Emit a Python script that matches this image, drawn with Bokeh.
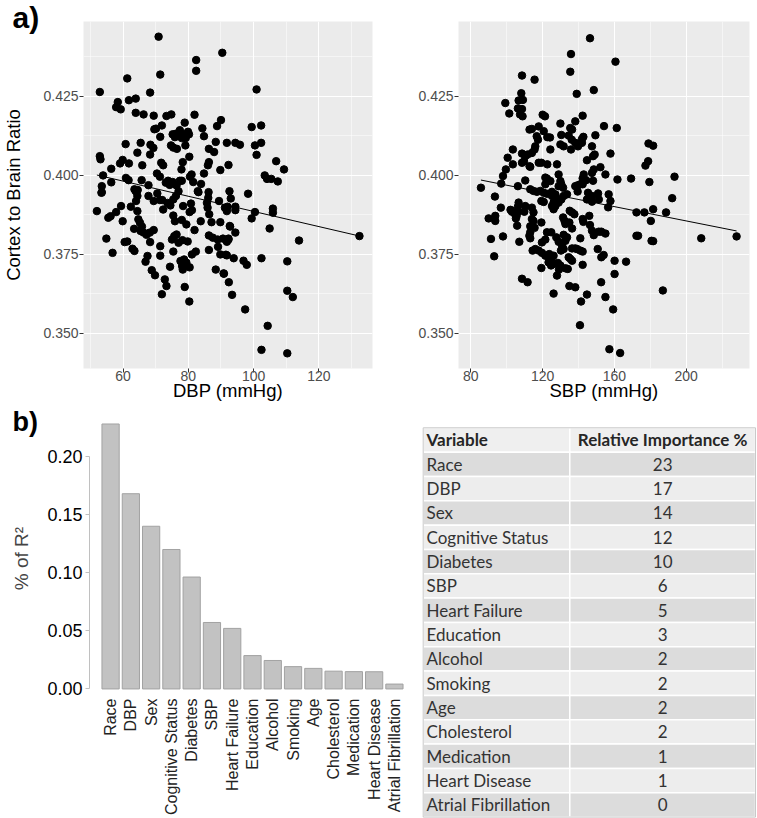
import math
from bokeh.plotting import figure
from bokeh.models import Range1d, FactorRange, FixedTicker, PrintfTickFormatter, Title
from bokeh.layouts import row, column
from bokeh.embed import file_html
from bokeh.resources import INLINE
from bokeh.core.properties import value

FONT = "Liberation Sans"
TFONT = "Lato"

# ---------------- data ----------------
# (DBP mmHg, cortex-to-brain ratio)
dbp_obs = [
    (70.9, 0.4439), (90.4, 0.4388), (82.4, 0.4365), (82.4, 0.4331), (71.4, 0.4319), (61.3, 0.4307),
    (100.9, 0.4272), (52.9, 0.4264), (68.3, 0.4262), (58.4, 0.4232), (57.9, 0.4216), (59.3, 0.4209),
    (61.8, 0.4238), (63.9, 0.4243), (63.9, 0.4198), (66.3, 0.4193), (69.4, 0.4189), (73.3, 0.4188),
    (74.8, 0.4193), (81.9, 0.4192), (78.9, 0.4167), (71.9, 0.4158), (69.6, 0.4146), (70.1, 0.4148),
    (84.3, 0.4149), (90.0, 0.4175), (88.8, 0.4156), (84.8, 0.4124),
    (76.2, 0.4132), (77.4, 0.4143), (75.2, 0.4130), (75.9, 0.4121), (78.5, 0.4130), (79.9, 0.4138),
    (80.2, 0.4130), (78.0, 0.4118), (79.2, 0.4118),
    (71.4, 0.4122), (60.8, 0.4099), (65.4, 0.4103), (68.4, 0.4097), (69.3, 0.4087), (64.4, 0.4072),
    (68.3, 0.4066), (74.7, 0.4095), (75.4, 0.4088), (76.5, 0.4084), (79.1, 0.4095), (80.3, 0.4059),
    (88.4, 0.4106), (91.8, 0.4103), (86.3, 0.4084), (87.9, 0.4074), (86.3, 0.4042), (86.0, 0.4032),
    (89.8, 0.4017), (92.3, 0.4033),
    (52.9, 0.4061), (53.1, 0.4051), (56.4, 0.4021), (59.1, 0.4038), (59.9, 0.4049), (61.8, 0.4038),
    (65.9, 0.4032), (71.7, 0.4040), (72.3, 0.4032), (78.3, 0.4042), (77.9, 0.4019), (81.0, 0.4003),
    (84.8, 0.4006),
    (53.9, 0.4000), (56.4, 0.3978), (60.9, 0.3992), (61.7, 0.3985), (64.5, 0.3954), (65.7, 0.3985),
    (67.8, 0.3969), (70.4, 0.4006), (71.3, 0.3996),
    (73.1, 0.3977), (73.8, 0.3983), (74.3, 0.3970), (75.2, 0.3979), (77.4, 0.3983), (76.4, 0.3968),
    (78.0, 0.3983),
    (80.5, 0.3996), (81.5, 0.3979), (82.9, 0.3950), (83.9, 0.3973), (86.2, 0.3947), (92.6, 0.3950),
    (53.5, 0.3966), (53.5, 0.3947), (63.5, 0.3956), (64.2, 0.3949), (93.0, 0.3927), (98.3, 0.3942),
    (92.0, 0.3901), (94.4, 0.3901), (94.4, 0.3890), (100.4, 0.3884), (99.4, 0.3864), (105.9, 0.3895),
    (105.9, 0.3882), (92.8, 0.3838), (94.4, 0.3819), (104.9, 0.3832), (92.3, 0.3800), (91.8, 0.3790),
    (113.9, 0.3794), (132.4, 0.3808),
    (91.5, 0.3749), (93.9, 0.3738), (96.9, 0.3730), (97.9, 0.3717), (102.4, 0.3738), (110.3, 0.3728),
    (90.8, 0.3690), (92.4, 0.3662), (93.4, 0.3622), (110.3, 0.3635), (112.0, 0.3615), (97.4, 0.3576),
    (104.3, 0.3524), (102.4, 0.3448), (110.3, 0.3437),
    (53.4, 0.3945), (52.0, 0.3887), (55.5, 0.3866), (56.2, 0.3871), (57.9, 0.3884), (59.4, 0.3903),
    (59.9, 0.3855), (62.4, 0.3901), (63.9, 0.3950), (64.4, 0.3935), (64.0, 0.3919), (64.4, 0.3887),
    (67.8, 0.3935), (69.4, 0.3919), (70.5, 0.3943), (71.3, 0.3922), (72.0, 0.3922), (72.3, 0.3892),
    (64.7, 0.3861), (65.2, 0.3850), (65.8, 0.3838), (63.4, 0.3831), (65.4, 0.3824), (66.3, 0.3819),
    (67.2, 0.3812), (68.2, 0.3819), (69.4, 0.3827), (68.3, 0.3789), (54.9, 0.3800), (56.8, 0.3755),
    (60.5, 0.3789), (61.3, 0.3791), (62.9, 0.3768), (63.5, 0.3761), (67.5, 0.3745), (66.9, 0.3727),
    (71.4, 0.3776), (71.4, 0.3746), (68.8, 0.3700), (69.8, 0.3684), (72.8, 0.3671), (73.3, 0.3650),
    (71.9, 0.3624), (74.4, 0.3711), (75.4, 0.3759),
    (75.4, 0.3873), (75.9, 0.3855), (73.6, 0.3913), (74.5, 0.3905), (75.4, 0.3924), (76.2, 0.3935),
    (77.0, 0.3950), (78.4, 0.3903), (80.8, 0.3911), (78.0, 0.3859), (79.4, 0.3845), (80.4, 0.3884),
    (81.1, 0.3890),
    (75.0, 0.3797), (75.7, 0.3808), (76.4, 0.3813), (77.0, 0.3787), (78.2, 0.3795), (79.8, 0.3791),
    (81.9, 0.3827), (83.8, 0.3855), (83.1, 0.3947),
    (86.1, 0.3929), (85.7, 0.3913), (85.9, 0.3898), (86.4, 0.3877), (87.1, 0.3852), (89.4, 0.3919),
    (89.8, 0.3852), (91.2, 0.3898), (91.8, 0.3887), (92.7, 0.3840),
    (86.3, 0.3810), (87.5, 0.3803), (89.0, 0.3797), (89.1, 0.3774), (89.8, 0.3750), (90.6, 0.3800),
    (92.3, 0.3797), (91.8, 0.3747), (86.3, 0.3764), (82.3, 0.3759), (81.1, 0.3750),
    (77.6, 0.3729), (78.7, 0.3734), (79.4, 0.3724), (78.1, 0.3713), (78.3, 0.3702), (80.4, 0.3709),
    (88.4, 0.3702), (90.9, 0.3689), (78.9, 0.3647), (80.3, 0.3601),
    (106.9, 0.4045), (109.3, 0.4019), (103.4, 0.4000), (104.1, 0.3989), (105.4, 0.3989), (107.4, 0.3981),
    (100.9, 0.4065), (99.4, 0.4153), (102.3, 0.4158), (94.4, 0.4103), (95.8, 0.4097), (100.4, 0.4095),
    (102.3, 0.4103),
]

# (SBP mmHg, cortex-to-brain ratio)
sbp_obs = [
    (146.4, 0.4434), (135.8, 0.4384), (160.6, 0.4360), (135.4, 0.4328), (108.5, 0.4316), (115.5, 0.4303),
    (148.5, 0.4270), (139.0, 0.4258), (108.1, 0.4260), (109.0, 0.4239), (106.6, 0.4237), (99.2, 0.4229),
    (106.2, 0.4212), (101.4, 0.4196), (108.5, 0.4210), (107.4, 0.4193), (108.8, 0.4187), (120.0, 0.4192),
    (121.3, 0.4187), (142.3, 0.4189), (138.2, 0.4171), (129.9, 0.4164), (154.2, 0.4156), (161.3, 0.4150),
    (117.8, 0.4155), (112.7, 0.4145), (114.0, 0.4147), (135.4, 0.4150), (136.4, 0.4145), (120.6, 0.4140),
    (122.6, 0.4121), (124.1, 0.4120), (116.7, 0.4124), (117.4, 0.4113), (130.4, 0.4128), (129.9, 0.4098),
    (131.7, 0.4092), (134.5, 0.4126), (136.2, 0.4113), (138.2, 0.4103), (139.7, 0.4092), (141.9, 0.4103),
    (142.7, 0.4122), (141.9, 0.4115), (149.4, 0.4127), (147.5, 0.4092), (149.0, 0.4066), (148.1, 0.4061),
    (135.8, 0.4082), (124.3, 0.4082), (115.9, 0.4092), (115.5, 0.4082), (114.0, 0.4071), (103.4, 0.4082),
    (108.5, 0.4069), (110.3, 0.4061), (111.6, 0.4066), (100.5, 0.4056), (103.4, 0.4035), (117.8, 0.4040),
    (119.3, 0.4040), (108.5, 0.4040), (109.6, 0.4045), (112.7, 0.4029), (113.1, 0.4027), (122.6, 0.4035),
    (128.0, 0.4035), (144.7, 0.4048), (157.8, 0.4069), (179.0, 0.4101), (181.6, 0.4094), (178.8, 0.4045),
    (177.3, 0.4031), (152.2, 0.4026), (142.9, 0.4003), (142.3, 0.3991), (148.5, 0.4019), (147.5, 0.4008),
    (99.5, 0.4019), (97.9, 0.3998), (96.9, 0.3974), (110.3, 0.3984), (106.2, 0.3966), (128.9, 0.4003),
    (121.5, 0.3993), (122.4, 0.3990), (124.3, 0.3982), (121.5, 0.3972), (129.9, 0.3982), (130.4, 0.3972),
    (131.4, 0.3961), (128.9, 0.3966), (138.2, 0.3966), (139.7, 0.3969), (141.0, 0.3972), (142.3, 0.3972),
    (144.2, 0.3985), (148.1, 0.3983), (155.0, 0.4003), (161.7, 0.3987), (169.3, 0.3990), (179.5, 0.3979),
    (193.5, 0.3996), (85.6, 0.3961), (113.1, 0.3956), (114.9, 0.3951), (116.8, 0.3948), (118.7, 0.3951),
    (120.6, 0.3945), (122.4, 0.3942), (125.2, 0.3948), (127.1, 0.3940), (125.2, 0.3935), (127.4, 0.3924),
    (126.1, 0.3914), (125.2, 0.3903), (128.9, 0.3914), (130.4, 0.3924), (131.7, 0.3935), (133.6, 0.3940),
    (139.5, 0.3949), (145.3, 0.3945), (144.7, 0.3924), (147.5, 0.3935), (150.9, 0.3943), (151.3, 0.3924),
    (147.5, 0.3917), (156.8, 0.3940), (157.8, 0.3919), (156.5, 0.3899), (93.4, 0.3933), (96.7, 0.3898),
    (89.9, 0.3864), (93.6, 0.3872), (93.6, 0.3856), (102.1, 0.3891), (102.9, 0.3885), (106.6, 0.3914),
    (106.2, 0.3901), (106.2, 0.3885), (105.1, 0.3864), (105.8, 0.3841), (110.3, 0.3903), (109.8, 0.3885),
    (104.7, 0.3877), (105.5, 0.3872), (114.0, 0.3898), (114.9, 0.3883), (114.0, 0.3862), (114.9, 0.3856),
    (113.1, 0.3839), (115.5, 0.3834), (113.1, 0.3820), (119.3, 0.3919), (120.6, 0.3916), (119.3, 0.3851),
    (126.1, 0.3893), (127.1, 0.3903), (131.4, 0.3867), (132.2, 0.3856), (132.7, 0.3846), (133.6, 0.3851),
    (135.1, 0.3888), (136.4, 0.3883), (137.7, 0.3877), (134.9, 0.3851), (136.4, 0.3832), (142.3, 0.3862),
    (142.7, 0.3853), (146.0, 0.3872), (146.4, 0.3843), (147.5, 0.3825), (148.5, 0.3811), (151.3, 0.3822),
    (152.7, 0.3822), (155.0, 0.3816), (172.3, 0.3883), (176.7, 0.3883), (181.6, 0.3893), (180.3, 0.3856),
    (188.8, 0.3883), (192.2, 0.3928), (172.3, 0.3809), (173.2, 0.3809), (180.7, 0.3793), (181.6, 0.3792),
    (208.4, 0.3801), (228.1, 0.3807), (91.2, 0.3799), (97.9, 0.3807), (107.0, 0.3790), (112.6, 0.3809),
    (113.1, 0.3801), (114.4, 0.3762), (115.9, 0.3767), (119.6, 0.3788), (121.5, 0.3797), (117.8, 0.3762),
    (119.6, 0.3755), (121.5, 0.3746), (122.4, 0.3746), (123.7, 0.3751), (125.2, 0.3741), (126.1, 0.3746),
    (123.3, 0.3725), (124.7, 0.3715), (126.1, 0.3720), (119.3, 0.3707), (124.8, 0.3820), (122.4, 0.3820),
    (127.6, 0.3804), (128.9, 0.3790), (130.8, 0.3778), (131.7, 0.3767), (130.2, 0.3762), (131.7, 0.3812),
    (133.6, 0.3804), (132.7, 0.3793), (128.5, 0.3723), (129.9, 0.3715), (132.7, 0.3706), (134.0, 0.3704),
    (129.1, 0.3702), (128.0, 0.3683), (136.4, 0.3769), (138.2, 0.3769), (139.2, 0.3767), (141.0, 0.3762),
    (142.3, 0.3759), (134.5, 0.3741), (135.4, 0.3736), (136.4, 0.3730), (142.3, 0.3717), (141.0, 0.3801),
    (150.7, 0.3767), (152.7, 0.3741), (154.0, 0.3748), (160.1, 0.3730), (166.5, 0.3727), (160.1, 0.3688),
    (108.5, 0.3673), (111.6, 0.3662), (134.9, 0.3650), (138.2, 0.3646), (152.6, 0.3662), (126.1, 0.3626),
    (144.7, 0.3623), (155.0, 0.3615), (141.4, 0.3601), (159.3, 0.3576), (187.0, 0.3636), (140.8, 0.3526),
    (157.2, 0.3450), (163.2, 0.3438), (93.0, 0.3744),
]

# linear fits: (intercept, slope)
dbp_fit = (0.4126, -0.000240)
sbp_fit = (0.4082, -0.000113)

dbp_ticks = [60, 80, 100, 120]
dbp_minor = [50, 70, 90, 110, 130]
sbp_ticks = [80, 120, 160, 200]
sbp_minor = [100, 140, 180, 220]
ratio_ticks = [0.350, 0.375, 0.400, 0.425]
ratio_minor = [0.3375, 0.3625, 0.3875, 0.4125, 0.4375]

variables = ["Race", "DBP", "Sex", "Cognitive Status", "Diabetes", "SBP", "Heart Failure",
             "Education", "Alcohol", "Smoking", "Age", "Cholesterol", "Medication",
             "Heart Disease", "Atrial Fibrillation"]
r2_share = [0.228, 0.168, 0.140, 0.120, 0.0963, 0.0572, 0.0521, 0.0287, 0.0245, 0.0192,
            0.0177, 0.0153, 0.0149, 0.0148, 0.0042]
rel_importance = [23, 17, 14, 12, 10, 6, 5, 3, 2, 2, 2, 2, 1, 1, 0]
bar_ticks = [0.0, 0.05, 0.10, 0.15, 0.20]


def no_frame_align(p):
    if "frame_align" in p.properties():
        p.frame_align = False


def panel_title(text, size, offset, standoff):
    return Title(text=text, align="left", offset=offset, standoff=standoff, text_font=FONT,
                 text_font_size=size, text_font_style="bold", text_color="black")


def scatter_panel(obs, fit, xr, ticks, minor, xlabel, width, mbl, mbr, ylabel=None):
    p = figure(width=width, height=404, x_range=Range1d(*xr), y_range=Range1d(0.3389, 0.4487),
               output_backend="svg", toolbar_location=None,
               min_border_left=mbl, min_border_right=mbr, min_border_top=21, min_border_bottom=36)
    no_frame_align(p)
    p.background_fill_color = "#EBEBEB"
    p.border_fill_color = "white"
    p.outline_line_color = None
    xt = FixedTicker(ticks=ticks, minor_ticks=minor)
    yt = FixedTicker(ticks=ratio_ticks, minor_ticks=ratio_minor)
    p.xaxis.ticker = xt
    p.xgrid.ticker = xt
    p.yaxis.ticker = yt
    p.ygrid.ticker = yt
    p.yaxis.formatter = PrintfTickFormatter(format="%.3f")
    for g in (p.xgrid, p.ygrid):
        g.grid_line_color = "white"
        g.grid_line_width = 1.1
        g.minor_grid_line_color = "white"
        g.minor_grid_line_width = 0.5
    for ax in (p.xaxis, p.yaxis):
        ax.axis_line_color = None
        ax.major_tick_line_color = "#333333"
        ax.major_tick_out = 4
        ax.major_tick_in = 0
        ax.minor_tick_line_color = None
        ax.major_label_text_font = FONT
        ax.major_label_text_font_size = "14px"
        ax.major_label_text_color = "#4D4D4D"
        ax.axis_label_text_font = FONT
        ax.axis_label_text_font_size = "18.5px"
        ax.axis_label_text_font_style = "normal"
        ax.axis_label_text_color = "black"
    p.xaxis.major_label_standoff = -2
    p.yaxis.major_label_standoff = 1
    p.xaxis.axis_label = xlabel
    p.xaxis.axis_label_standoff = -4
    if ylabel:
        p.yaxis.axis_label = ylabel
        p.yaxis.axis_label_standoff = 16
    xs = [o[0] for o in obs]
    ys = [o[1] for o in obs]
    p.scatter(xs, ys, size=7.5, color="black")
    lx = [min(xs), max(xs)]
    p.line(lx, [fit[0] + fit[1] * v for v in lx], line_color="black", line_width=1)
    return p


p1 = scatter_panel(dbp_obs, dbp_fit, (47.9, 136.4), dbp_ticks, dbp_minor, "DBP (mmHg)",
                   378, 82, 6, ylabel="Cortex to Brain Ratio")
p1.title = panel_title("a)", "30px", -71, -24)
p2 = scatter_panel(sbp_obs, sbp_fit, (73.1, 235.3), sbp_ticks, sbp_minor, "SBP (mmHg)",
                   379, 80, 8)

# ---------------- bar chart ----------------
p3 = figure(width=420, height=414,
            x_range=FactorRange(factors=variables, range_padding=0.54, range_padding_units="absolute"),
            y_range=Range1d(-0.0065, 0.2310), output_backend="svg", toolbar_location=None,
            min_border_left=89, min_border_right=5, min_border_top=16, min_border_bottom=117)
no_frame_align(p3)
p3.title = panel_title("b)", "27px", -77, -32)
p3.outline_line_color = None
p3.grid.visible = False
p3.vbar(x=variables, top=r2_share, width=0.85, fill_color="#C2C2C2", line_color="#A2A2A2", line_width=1)
p3.yaxis.ticker = FixedTicker(ticks=bar_ticks)
p3.yaxis.formatter = PrintfTickFormatter(format="%.2f")
p3.yaxis.bounds = (0, 0.2)
p3.yaxis.axis_line_color = "#C0C0C0"
p3.yaxis.major_tick_line_color = "#C0C0C0"
p3.yaxis.major_tick_out = 4
p3.yaxis.major_tick_in = 0
p3.yaxis.minor_tick_line_color = None
p3.yaxis.major_label_standoff = 3
p3.yaxis.major_label_text_font = FONT
p3.yaxis.major_label_text_font_size = "18px"
p3.yaxis.major_label_text_color = "black"
p3.yaxis.axis_label = "% of R\u00b2"
p3.yaxis.axis_label_text_font = FONT
p3.yaxis.axis_label_text_font_size = "19px"
p3.yaxis.axis_label_text_font_style = "normal"
p3.yaxis.axis_label_standoff = 12
p3.xaxis.axis_line_color = None
p3.xaxis.major_tick_line_color = None
p3.xaxis.major_tick_out = 0
p3.xaxis.major_label_orientation = math.pi / 2
p3.xaxis.major_label_standoff = 2
p3.xaxis.major_label_text_font = FONT
p3.xaxis.major_label_text_font_size = "16px"
p3.xaxis.major_label_text_color = "#222222"

# ---------------- table ----------------
p4 = figure(width=337, height=414, x_range=Range1d(0, 1), y_range=Range1d(-0.058, 16.958),
            output_backend="svg", toolbar_location=None, x_axis_type=None, y_axis_type=None,
            min_border_left=0, min_border_right=0, min_border_top=0, min_border_bottom=0)
no_frame_align(p4)
p4.outline_line_color = None
p4.grid.visible = False
n = len(variables)
t_left, t_split, t_right = 0.008, 0.443, 0.994
tops = [n + 1 - i for i in range(n + 1)]
bottoms = [t - 1 for t in tops]
fills = ["#EFEFEF"] + ["#DCDCDC" if i % 2 == 0 else "#EDEDED" for i in range(n)]
p4.quad(left=[t_left] * (n + 1), right=[t_split] * (n + 1), top=tops, bottom=bottoms,
        fill_color=fills, line_color="white", line_width=1.5)
p4.quad(left=[t_split] * (n + 1), right=[t_right] * (n + 1), top=tops, bottom=bottoms,
        fill_color=fills, line_color="white", line_width=1.5)
p4.quad(left=[t_left], right=[t_right], top=[n + 1], bottom=[0], fill_color=None,
        line_color="#C8C8C8", line_width=1)
mids = [t - 0.5 for t in tops]
x_text = t_left + 0.010
x_num = (t_split + t_right) / 2
p4.text(x=[x_text], y=[mids[0]], text=["Variable"], text_font=value(TFONT), text_font_size="17px",
        text_font_style="bold", text_baseline="middle", text_align="left", text_color="#262626")
p4.text(x=[x_num], y=[mids[0]], text=["Relative Importance %"], text_font=value(TFONT),
        text_font_size="17px", text_font_style="bold", text_baseline="middle", text_align="center",
        text_color="#262626")
p4.text(x=[x_text] * n, y=mids[1:], text=variables, text_font=value(TFONT), text_font_size="17px",
        text_baseline="middle", text_align="left", text_color="#333333")
p4.text(x=[x_num] * n, y=mids[1:], text=[str(v) for v in rel_importance],
        text_font=value(TFONT), text_font_size="17px", text_baseline="middle", text_align="center",
        text_color="#333333")

layout = column(row(column(p1), column(p2)), row(column(p3), column(p4)))
open("out.html", "w").write(file_html(layout, INLINE))
